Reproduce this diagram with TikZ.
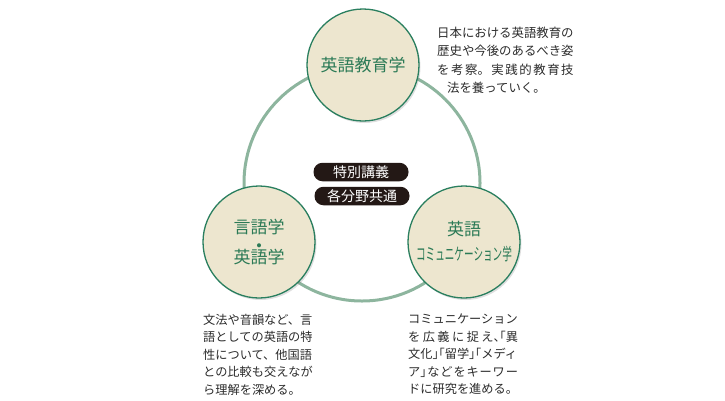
\documentclass[tikz,border=0pt]{standalone}
\usepackage{fontspec}
\setmainfont{Noto Sans CJK JP}
\usetikzlibrary{shadows}
\definecolor{ringline}{HTML}{8DB59E}
\definecolor{fieldline}{HTML}{2A7F5F}
\definecolor{fieldfill}{HTML}{EDE6CF}
\definecolor{fieldtext}{HTML}{2B7A56}
\definecolor{tagfill}{HTML}{231815}
\definecolor{notetext}{HTML}{2B2B2B}
\newcommand\halfw[1]{{\addfontfeature{RawFeature=+halt}#1}}

\begin{document}
\begin{tikzpicture}[x=1pt,y=-1pt,
  field/.style={circle,draw=fieldline,line width=1.3pt,fill=fieldfill,
    minimum size=112pt,inner sep=0pt,text=fieldtext,align=center,
    drop shadow={shadow xshift=1.5pt,shadow yshift=-2pt,opacity=.25}},
  tag/.style={rounded corners=9pt,fill=tagfill,text=white,minimum width=95pt,
    minimum height=18.5pt,inner sep=0pt,font=\fontsize{14}{14}\selectfont},
  note/.style={anchor=north west,inner sep=0pt,align=left,text=notetext}]
  \useasboundingbox (0,0) rectangle (725,400);

  % ring
  \coordinate (ringc) at (362,183);
  \draw[ringline,line width=3pt] (ringc) circle (118pt);

  % fields
  \node[field,font=\fontsize{17}{17}\selectfont] (edu) at (363,65) {英語教育学};
  \node[field,font=\fontsize{17}{13.5}\selectfont] (ling) at (259,242)
    {言語学\\{\fontsize{4.5}{4.5}\selectfont ●}\\英語学};
  \node[field,font=\fontsize{17}{25}\selectfont] (comm) at (464,242)
    {英語\\\scalebox{.565}[1]{コミュニケーション学}};

  % tags
  \node[tag] (special) at (361,172) {特別講義};
  \node[tag] (common) at (362,196) {各分野共通};

  % notes
  \node[note,font=\fontsize{12.4}{18.3}\selectfont] (edunote) at (437,27)
    {日本における英語教育の\\
     歴史や今後のあるべき姿\\
     \makebox[136.4pt][s]{を\hfill 考\hfill 察。\hfill 実\hfill 践\hfill 的\hfill 教\hfill 育\hfill 技}\\
     \hspace*{.8em}法を養っていく。};
  \node[note,font=\fontsize{12.2}{17.5}\selectfont] (lingnote) at (203,314)
    {文法や音韻など、言\\
     語としての英語の特\\
     性について、他国語\\
     との比較も交えなが\\
     ら理解を深める。};
  \node[note,font=\fontsize{12.2}{17.5}\selectfont] (commnote) at (408,314)
    {コミュニケーション\\
     \makebox[109.8pt][s]{を\hfill 広\hfill 義\hfill に\hfill 捉\hfill え\halfw{、「}異}\\
     \makebox[109.8pt][s]{文化\halfw{」「}留学\halfw{」「}メディ}\\
     \makebox[109.8pt][s]{ア\halfw{」}\hfill な\hfill ど\hfill を\hfill キ\hfill ー\hfill ワ\hfill ー}\\
     ドに研究を進める。};
\end{tikzpicture}
\end{document}
